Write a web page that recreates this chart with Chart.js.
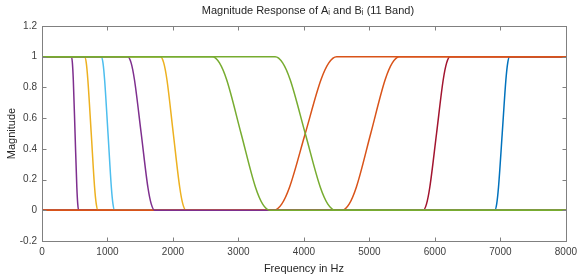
<!DOCTYPE html>
<html>
<head>
<meta charset="utf-8">
<script src="https://cdn.jsdelivr.net/npm/chart.js@4/dist/chart.umd.min.js"></script>
<style>
html,body{margin:0;padding:0;background:#fff;}
#wrap{width:582px;height:277px;position:relative;}
</style>
</head>
<body>
<div id="wrap"><canvas id="c" width="582" height="277"></canvas></div>
<script>
// ---- data ----
const titleText = 'Magnitude Response of A\u1D62 and B\u1D62 (11 Band)';
const xLabel = 'Frequency in Hz';
const yLabel = 'Magnitude';
const xTicks = [0, 1000, 2000, 3000, 4000, 5000, 6000, 7000, 8000];
const yTicks = [-0.2, 0, 0.2, 0.4, 0.6, 0.8, 1, 1.2];
const yTickLabels = ['-0.2', '0', '0.2', '0.4', '0.6', '0.8', '1', '1.2'];

// low-pass responses (A)
const a1Freq = [0, 450, 464, 478, 505, 532, 546, 560, 8000];
const a1Mag  = [1, 1, 0.96, 0.85, 0.5, 0.15, 0.04, 0, 0];
const a2Freq = [0, 650, 676, 700, 752, 803, 829, 855, 8000];
const a2Mag  = [1, 1, 0.96, 0.85, 0.5, 0.15, 0.04, 0, 0];
const a3Freq = [0, 905, 931, 956, 1008, 1059, 1084, 1110, 8000];
const a3Mag  = [1, 1, 0.96, 0.85, 0.5, 0.15, 0.04, 0, 0];
const a4Freq = [0, 1310, 1361, 1412, 1515, 1617, 1669, 1720, 8000];
const a4Mag  = [1, 1, 0.96, 0.85, 0.5, 0.15, 0.04, 0, 0];
const a5Freq = [0, 1810, 1859, 1908, 2005, 2103, 2151, 2200, 8000];
const a5Mag  = [1, 1, 0.96, 0.85, 0.5, 0.15, 0.04, 0, 0];
const a6Freq = [0, 2600, 2710, 2820, 3040, 3260, 3370, 3480, 8000];
const a6Mag  = [1, 1, 0.96, 0.85, 0.5, 0.15, 0.04, 0, 0];
const a7Freq = [0, 3560, 3675, 3790, 4020, 4250, 4365, 4480, 8000];
const a7Mag  = [1, 1, 0.96, 0.85, 0.5, 0.15, 0.04, 0, 0];
// high-pass responses (B)
const b1Freq = [0, 3540, 3660, 3780, 4020, 4260, 4380, 4500, 8000];
const b1Mag  = [0, 0, 0.04, 0.15, 0.5, 0.85, 0.96, 1, 1];
const b2Freq = [0, 4580, 4690, 4800, 5020, 5240, 5350, 5460, 8000];
const b2Mag  = [0, 0, 0.04, 0.15, 0.5, 0.85, 0.96, 1, 1];
const b3Freq = [0, 5820, 5871, 5922, 6025, 6127, 6179, 6230, 8000];
const b3Mag  = [0, 0, 0.04, 0.15, 0.5, 0.85, 0.96, 1, 1];
const b4Freq = [0, 6915, 6943, 6971, 7028, 7084, 7112, 7140, 8000];
const b4Mag  = [0, 0, 0.04, 0.15, 0.5, 0.85, 0.96, 1, 1];

// ---- styling ----
const C = {blue:'#0072BD', orange:'#D95319', yellow:'#EDB120', purple:'#7E2F8E',
           green:'#77AC30', cyan:'#4DBEEE', darkred:'#A2142F'};

function pts(xs, ys){ return xs.map((x,i)=>({x:x, y:ys[i]})); }
// first listed = drawn on top
const series = [
  [a7Freq, a7Mag, C.green],
  [a6Freq, a6Mag, C.green],
  [a4Freq, a4Mag, C.purple],
  [b1Freq, b1Mag, C.orange],
  [b2Freq, b2Mag, C.orange],
  [a5Freq, a5Mag, C.yellow],
  [a3Freq, a3Mag, C.cyan],
  [a2Freq, a2Mag, C.yellow],
  [a1Freq, a1Mag, C.purple],
  [b3Freq, b3Mag, C.darkred],
  [b4Freq, b4Mag, C.blue]
];

const datasets = series.map(s => ({
  data: pts(s[0], s[1]),
  borderColor: s[2],
  borderWidth: 1.5,
  pointRadius: 0,
  fill: false,
  cubicInterpolationMode: 'monotone'
}));

const frameColor = '#808080';
const FONT = '"Liberation Sans", Arial, Helvetica, sans-serif';

const framePlugin = {
  id: 'frame',
  afterDraw(chart){
    const ctx = chart.ctx, a = chart.chartArea;
    const xs = chart.scales.x, ys = chart.scales.y;
    ctx.save();
    ctx.strokeStyle = frameColor;
    ctx.lineWidth = 1;
    const L = Math.round(a.left)+0.5, R = Math.round(a.right)+0.5;
    const T = Math.round(a.top)+0.5, B = Math.round(a.bottom)+0.5;
    ctx.strokeRect(L, T, R-L, B-T);
    const tl = 4;
    ctx.beginPath();
    xTicks.forEach(v => {
      const px = Math.round(xs.getPixelForValue(v))+0.5;
      ctx.moveTo(px, B); ctx.lineTo(px, B-tl);
      ctx.moveTo(px, T); ctx.lineTo(px, T+tl);
    });
    yTicks.forEach(v => {
      const py = Math.round(ys.getPixelForValue(v))+0.5;
      ctx.moveTo(L, py); ctx.lineTo(L+tl, py);
      ctx.moveTo(R, py); ctx.lineTo(R-tl, py);
    });
    ctx.stroke();
    // titles
    ctx.fillStyle = '#262626';
    ctx.font = '11px ' + FONT;
    ctx.textAlign = 'center';
    ctx.textBaseline = 'middle';
    ctx.fillText(titleText, (a.left+a.right)/2 + 4, 11);
    ctx.fillText(xLabel, (a.left+a.right)/2, 269);
    ctx.translate(12, (a.top+a.bottom)/2);
    ctx.rotate(-Math.PI/2);
    ctx.fillText(yLabel, 0, 0);
    ctx.restore();
  }
};

new Chart(document.getElementById('c'), {
  type: 'line',
  data: { datasets: datasets },
  options: {
    responsive: false,
    animation: false,
    layout: { padding: { left: 0, right: 14, top: 26, bottom: 0 } },
    plugins: { legend: { display: false }, title: { display: false }, tooltip: { enabled: false } },
    scales: {
      x: {
        type: 'linear', min: 0, max: 8000,
        afterBuildTicks: s => { s.ticks = xTicks.map(v => ({ value: v })); },
        afterFit: s => { s.height = 36; },
        grid: { display: false, drawTicks: false },
        border: { display: false },
        ticks: { color: '#404040', font: { size: 10, family: FONT }, padding: 5, maxRotation: 0, autoSkip: false,
                 callback: v => String(v) }
      },
      y: {
        type: 'linear', min: -0.2, max: 1.2,
        afterBuildTicks: s => { s.ticks = yTicks.map(v => ({ value: v })); },
        afterFit: s => { s.width = 42; },
        grid: { display: false, drawTicks: false },
        border: { display: false },
        ticks: { color: '#404040', font: { size: 10, family: FONT }, padding: 5, autoSkip: false,
                 callback: (v, i) => yTickLabels[i] }
      }
    }
  },
  plugins: [framePlugin]
});
</script>
</body>
</html>
